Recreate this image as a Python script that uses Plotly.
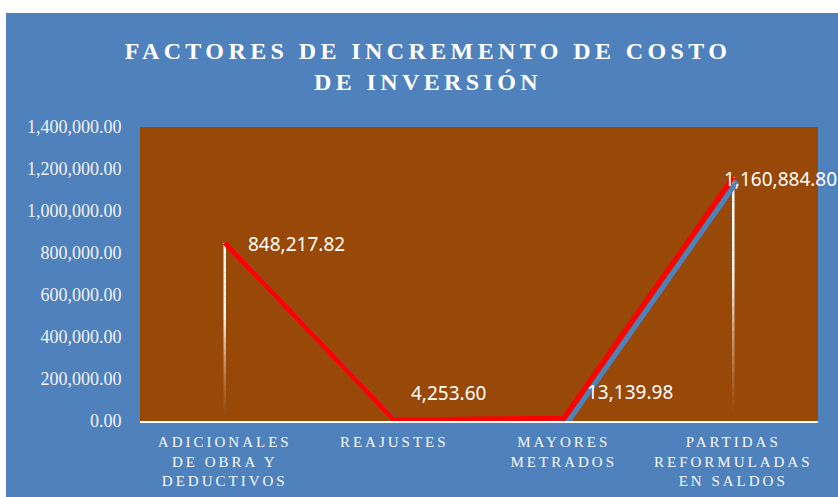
import plotly.graph_objects as go

categories = ["ADICIONALES DE OBRA Y DEDUCTIVOS", "REAJUSTES", "MAYORES METRADOS",
              "PARTIDAS REFORMULADAS EN SALDOS"]
tick_labels = ["ADICIONALES<br>DE OBRA Y<br>DEDUCTIVOS", "REAJUSTES",
               "MAYORES<br>METRADOS", "PARTIDAS<br>REFORMULADAS<br>EN SALDOS"]
values = [848217.82, 4253.60, 13139.98, 1160884.80]
y_ticks = [0, 200000, 400000, 600000, 800000, 1000000, 1200000, 1400000]
title_text = "FACTORES DE INCREMENTO DE COSTO<br>DE INVERSIÓN"

W, H = 838, 497
ML, MR, MT, MB = 140, 20, 127, 76
PW, PH = W - ML - MR, H - MT - MB
BLUE = "#4F81BD"
BROWN = "#984807"

YMAX = 1400000
n = len(categories)
# shadow offset in pixels -> axis units
sx = 4 * n / PW
sy = 4 * YMAX / PH

fig = go.Figure()

# shadow line (blue) on shifted overlay axes
fig.add_trace(go.Scatter(x=categories, y=values, mode="lines",
                         line=dict(color=BLUE, width=5), xaxis="x2", yaxis="y2",
                         hoverinfo="skip", showlegend=False))
# main red line
fig.add_trace(go.Scatter(x=categories, y=values, mode="lines",
                         line=dict(color="#FF0000", width=5), xaxis="x3", yaxis="y3",
                         showlegend=False))

shapes = []
# drop lines with fading gradient
N = 30
for c, v in zip(categories, values):
    for k in range(N):
        t = (k + 1) / N
        a = min(1.0, 1.6 * t) ** 1.5
        shapes.append(dict(type="line", xref="x", yref="y", x0=c, x1=c,
                           y0=v * k / N, y1=v * (k + 1) / N, layer="below",
                           line=dict(color=f"rgba(255,255,255,{a:.3f})", width=2.5)))

# white margins of the picture (outside the blue chart area)
def px_x(p):
    return (p - ML) / PW
def px_y(p):
    return (H - MB - p) / PH
shapes.append(dict(type="rect", xref="paper", yref="paper", x0=px_x(0), x1=px_x(W),
                   y0=px_y(13), y1=px_y(0), fillcolor="white", line=dict(width=0), layer="above"))
shapes.append(dict(type="rect", xref="paper", yref="paper", x0=px_x(0), x1=px_x(6),
                   y0=px_y(H), y1=px_y(0), fillcolor="white", line=dict(width=0), layer="above"))

# data labels
offsets = [(72, -1), (54, 27), (66, 26), (47, -2)]
annotations = []
for c, v, (dx, dy) in zip(categories, values, offsets):
    annotations.append(dict(x=c, y=v, xref="x3", yref="y3", text=f"{v:,.2f}",
                            showarrow=False, xanchor="center", yanchor="middle",
                            xshift=dx, yshift=dy,
                            font=dict(family="Noto Sans", size=19, color="white")))

fig.update_layout(
    width=W, height=H, autosize=False,
    margin=dict(l=ML, r=MR, t=MT, b=MB, pad=0, autoexpand=False),
    paper_bgcolor=BLUE, plot_bgcolor=BROWN,
    showlegend=False,
    title=dict(text=title_text, x=428 / W, xref="container", xanchor="center",
               y=1 - 59 / H, yref="container", yanchor="top",
               font=dict(family="Liberation Serif", size=24, color="white", weight="bold")),
    xaxis=dict(type="category", categoryorder="array", categoryarray=categories,
               range=[-0.5, n - 0.5], tickvals=categories, ticktext=tick_labels,
               showgrid=False, zeroline=False, showline=True, linecolor="white", linewidth=2,
               ticks="outside", ticklen=6, tickcolor="rgba(0,0,0,0)", layer="below traces",
               tickfont=dict(family="Liberation Serif", size=15, color="#F8F8F8"),
               automargin=False, fixedrange=True),
    yaxis=dict(range=[0, YMAX], tickvals=y_ticks, tickformat=",.2f",
               showgrid=False, zeroline=False, showline=False,
               ticks="outside", ticklen=14, tickcolor="rgba(0,0,0,0)",
               tickfont=dict(family="Liberation Serif", size=18, color="#F2F2F2"),
               automargin=False, fixedrange=True),
    xaxis2=dict(type="category", categoryorder="array", categoryarray=categories,
                overlaying="x", visible=False, range=[-0.5 - sx, n - 0.5 - sx]),
    yaxis2=dict(overlaying="y", visible=False, range=[sy, YMAX + sy]),
    xaxis3=dict(type="category", categoryorder="array", categoryarray=categories,
                overlaying="x", visible=False, range=[-0.5, n - 0.5]),
    yaxis3=dict(overlaying="y", visible=False, range=[0, YMAX]),
    shapes=shapes,
    annotations=annotations,
)

css = ("html,body{margin:0;padding:0;overflow:hidden}"
       ".gtitle{letter-spacing:4.4px}.xtick text{letter-spacing:3px}")
post = ("var s=document.createElement('style');s.textContent='" + css +
        "';document.head.appendChild(s);")
fig.write_html("out.html", post_script=post, config=dict(displayModeBar=False, responsive=False))
